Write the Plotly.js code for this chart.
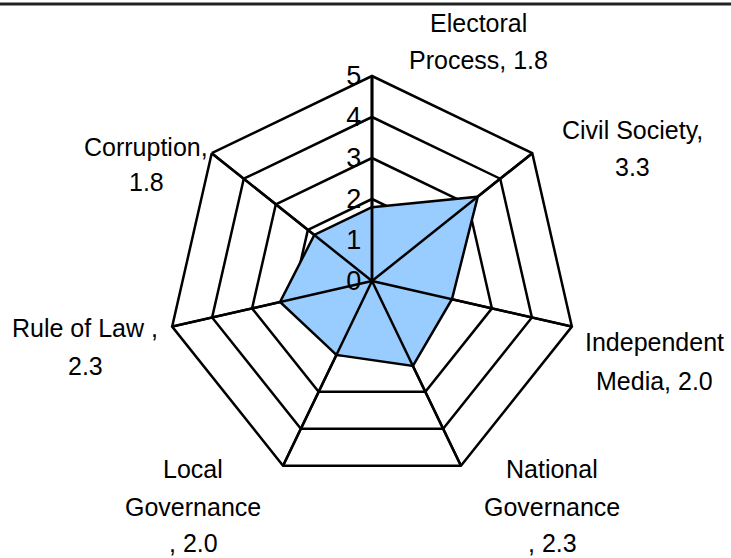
<!DOCTYPE html>
<html>
<head>
<meta charset="utf-8">
<script src="https://cdn.plot.ly/plotly-3.0.1.min.js"></script>
<style>html,body{margin:0;padding:0;background:#fff}#chart{width:731px;height:558px}</style>
</head>
<body>
<div id="chart"></div>
<script>
// Data
const categories = ["Electoral Process", "Civil Society", "Independent Media", "National Governance", "Local Governance", "Rule of Law", "Corruption"];
const values = [1.8, 3.3, 2.0, 2.3, 2.0, 2.3, 1.8];
const labelLines = [
  ["Electoral", "Process, 1.8"],
  ["Civil Society,", "3.3"],
  ["Independent", "Media, 2.0"],
  ["National", "Governance", ", 2.3"],
  ["Local", "Governance", ", 2.0"],
  ["Rule of Law ,", "2.3"],
  ["Corruption,", "1.8"]
];
const radialTicks = [0, 1, 2, 3, 4, 5];
const radialMax = 5;

// Layout-only label placement (pixel centres of each line)
const W = 731, H = 558;
const labelPos = [
  {x: 478, y: [23, 60]},
  {x: 632, y: [130, 167]},
  {x: 654, y: [342, 381]},
  {x: 552, y: [469, 507, 543]},
  {x: 193, y: [469, 507, 543]},
  {x: 85, y: [328, 366]},
  {x: 146, y: [147, 182]}
];

const FONT = "Liberation Sans, Arial, sans-serif";
const annotations = [];
labelLines.forEach((lines, i) => {
  lines.forEach((t, j) => {
    annotations.push({
      xref: "paper", yref: "paper",
      x: labelPos[i].x / W, y: 1 - labelPos[i].y[j] / H,
      xanchor: "center", yanchor: "middle",
      text: t, showarrow: false,
      font: {family: FONT, size: 25, color: "#000"}
    });
  });
});

const LW = 2.5;
const cx = 372, cy = 281, R = 205;
const trace = {
  type: "scatterpolar",
  r: values.concat([values[0]]),
  theta: categories.concat([categories[0]]),
  mode: "lines",
  fill: "toself",
  fillcolor: "#99CCFF",
  line: {color: "#000", width: LW},
  hoverinfo: "skip"
};

// spokes drawn above the filled area
const spokeR = [], spokeT = [];
categories.forEach(c => { spokeR.push(0, radialMax, null); spokeT.push(c, c, c); });
const spokes = {
  type: "scatterpolar",
  r: spokeR, theta: spokeT,
  mode: "lines", connectgaps: false,
  line: {color: "#000", width: LW},
  hoverinfo: "skip"
};

const layout = {
  width: W, height: H,
  margin: {l: 0, r: 0, t: 0, b: 0},
  paper_bgcolor: "#fff",
  showlegend: false,
  font: {family: FONT, color: "#000"},
  polar: {
    domain: {x: [(cx - R) / W, (cx + R) / W], y: [(H - cy - R) / H, (H - cy + R) / H]},
    gridshape: "linear",
    bgcolor: "rgba(0,0,0,0)",
    radialaxis: {
      range: [0, radialMax],
      angle: 90,
      tickangle: 90,
      side: "counterclockwise",
      tickvals: radialTicks,
      ticktext: radialTicks.map(String),
      ticksuffix: "\u00a0\u00a0",
      showline: true, linecolor: "#000", linewidth: LW,
      showgrid: true, gridcolor: "#000", gridwidth: LW,
      ticks: "",
      tickfont: {family: FONT, size: 27, color: "#000"},
      layer: "above traces"
    },
    angularaxis: {
      direction: "clockwise",
      rotation: 90,
      categoryorder: "array",
      categoryarray: categories,
      showline: true, linecolor: "#000", linewidth: LW,
      showgrid: true, gridcolor: "#000", gridwidth: LW,
      ticks: "",
      showticklabels: false,
      layer: "above traces"
    }
  },
  shapes: [{
    type: "line", xref: "paper", yref: "paper",
    x0: 0, x1: 1, y0: 1 - 4 / H, y1: 1 - 4 / H,
    line: {color: "#222", width: 3}
  }],
  annotations: annotations
};

Plotly.newPlot("chart", [trace, spokes], layout, {displayModeBar: false, staticPlot: true});
</script>
</body>
</html>
